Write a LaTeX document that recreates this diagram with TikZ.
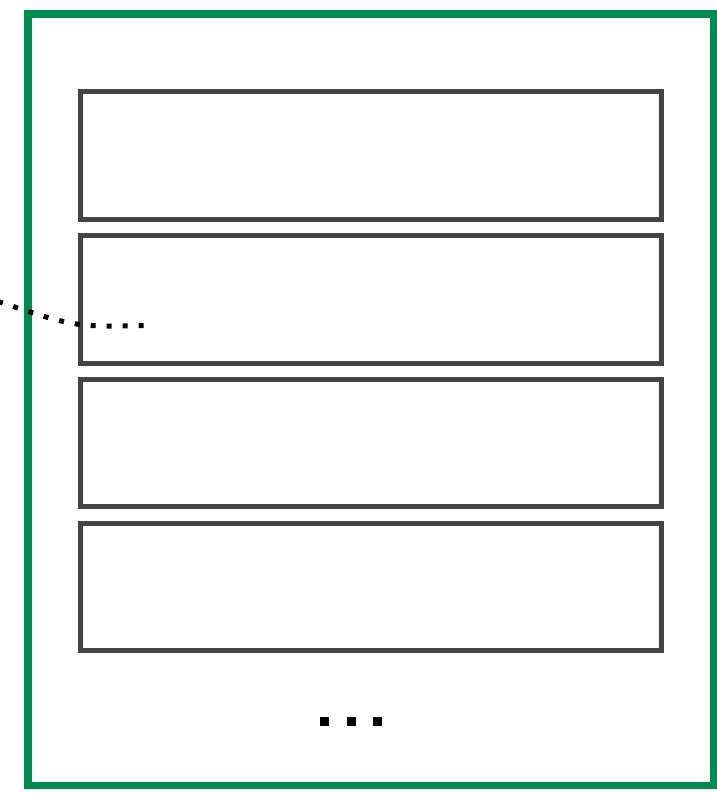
\documentclass[tikz,border=0pt]{standalone}
\begin{document}
\begin{tikzpicture}[x=1pt,y=-1pt,
  frame/.style={draw=framegreen,line width=7.5pt},
  slot/.style={draw=slotgray,line width=5pt,rectangle,minimum width=580.5pt,minimum height=127.5pt,inner sep=0pt,outer sep=0pt,anchor=north west},
  dotsq/.style={fill=black,minimum size=9pt,inner sep=0pt,outer sep=0pt,rectangle},
  pointer/.style={line width=5pt,dash pattern=on 5pt off 11pt}]
\definecolor{framegreen}{RGB}{0,140,80}
\definecolor{slotgray}{RGB}{68,68,68}
\useasboundingbox (0,0) rectangle (717,793);
\begin{scope}
\clip (0,0) rectangle (717,793);
\draw[frame] (28,14) rectangle (713.5,785.5);
\node[slot] (b1) at (80.5,91.5) {};
\node[slot] (b2) at (80.5,235.5) {};
\node[slot] (b3) at (80.5,379) {};
\node[slot] (b4) at (80.5,523) {};
\node[dotsq] (d1) at (324.5,721.5) {};
\node[dotsq] (d2) at (351,721.5) {};
\node[dotsq] (d3) at (377.5,721.5) {};
\coordinate (ps) at (-2,301.5);
\coordinate (pc) at (75,327);
\coordinate (pe) at (145,325.5);
\draw[pointer] (ps) .. controls (pc) .. (pe);
\end{scope}
\end{tikzpicture}
\end{document}
